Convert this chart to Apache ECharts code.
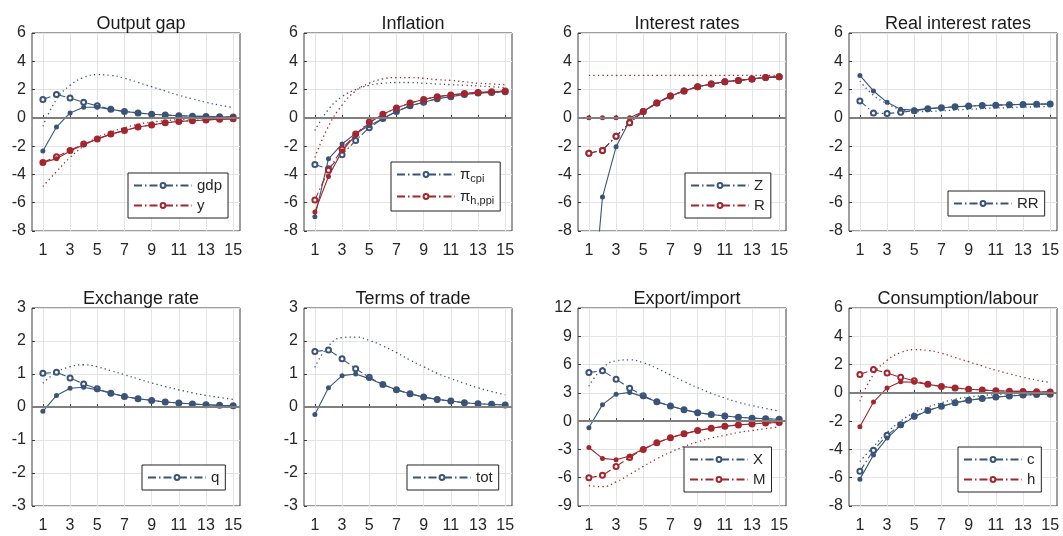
<!DOCTYPE html>
<html>
<head>
<meta charset="utf-8">
<script src="https://cdn.jsdelivr.net/npm/echarts@6/dist/echarts.min.js"></script>
<style>
  html, body { margin: 0; padding: 0; background: #fff; }
  #chart { width: 1063px; height: 536px; }
</style>
</head>
<body>
<div id="chart"></div>
<script>
// horizon and tick labels
const periods = [1, 2, 3, 4, 5, 6, 7, 8, 9, 10, 11, 12, 13, 14, 15];
const xTicks = [1, 3, 5, 7, 9, 11, 13, 15];

// output gap
const gdpSolid = [-2.35, -0.65, 0.35, 0.75, 0.75, 0.6, 0.45, 0.35, 0.25, 0.2, 0.15, 0.12, 0.1, 0.08, 0.06];
const gdpOpen = [1.3, 1.65, 1.4, 1.1, 0.85, 0.6, 0.45, 0.35, 0.25, 0.2, 0.15, 0.12, 0.1, 0.08, 0.06];
const gdpBand = [-0.6, 1.3, 2.3, 2.85, 3.05, 3.0, 2.8, 2.5, 2.2, 1.9, 1.6, 1.35, 1.1, 0.9, 0.72];
const ySolid = [-3.15, -2.9, -2.35, -1.9, -1.5, -1.15, -0.9, -0.65, -0.5, -0.35, -0.25, -0.2, -0.15, -0.1, -0.07];
const yOpen = [-3.15, -2.75, -2.3, -1.85, -1.5, -1.15, -0.9, -0.65, -0.5, -0.35, -0.25, -0.2, -0.15, -0.1, -0.07];
const yBand = [-4.85, -3.8, -2.8, -2.0, -1.4, -1.0, -0.7, -0.45, -0.3, -0.2, -0.12, -0.07, -0.04, -0.02, 0];

// inflation
const pcpiSolid = [-7.0, -2.9, -1.85, -1.1, -0.55, -0.05, 0.45, 0.85, 1.1, 1.35, 1.5, 1.65, 1.75, 1.8, 1.85];
const pcpiOpen = [-3.3, -3.6, -2.6, -1.6, -0.7, -0.05, 0.45, 0.85, 1.1, 1.35, 1.5, 1.65, 1.75, 1.8, 1.85];
const pcpiBand = [-0.9, 0.6, 1.5, 2.0, 2.3, 2.45, 2.5, 2.5, 2.45, 2.4, 2.35, 2.3, 2.25, 2.2, 2.15];
const phSolid = [-6.65, -4.15, -2.35, -1.2, -0.35, 0.25, 0.7, 1.05, 1.3, 1.5, 1.62, 1.72, 1.8, 1.85, 1.9];
const phOpen = [-5.8, -3.7, -2.2, -1.15, -0.3, 0.25, 0.7, 1.05, 1.3, 1.5, 1.62, 1.72, 1.8, 1.85, 1.9];
const phBand = [-2.8, -0.6, 0.9, 1.9, 2.45, 2.75, 2.85, 2.85, 2.8, 2.7, 2.65, 2.55, 2.45, 2.4, 2.35];

// interest rates
const zSolid = [-16.5, -5.6, -2.05, -0.2, 0.45, 1.05, 1.55, 1.9, 2.2, 2.4, 2.55, 2.65, 2.75, 2.85, 2.9];
const zOpen = [-2.5, -2.3, -1.3, -0.35, 0.45, 1.05, 1.55, 1.9, 2.2, 2.4, 2.55, 2.65, 2.75, 2.85, 2.9];
const rSolid = [0, 0, 0, 0, 0.45, 1.05, 1.55, 1.9, 2.2, 2.4, 2.55, 2.65, 2.75, 2.85, 2.9];
const rOpen = [-2.5, -2.3, -1.3, -0.35, 0.45, 1.05, 1.55, 1.9, 2.2, 2.4, 2.55, 2.65, 2.75, 2.85, 2.9];
const rBand = [3, 3, 3, 3, 3, 3, 3, 3, 3, 3, 3, 3, 3, 3, 3];

// real interest rates
const rrSolid = [3.0, 1.9, 1.1, 0.6, 0.55, 0.65, 0.72, 0.78, 0.83, 0.87, 0.9, 0.93, 0.95, 0.97, 0.98];
const rrOpen = [1.2, 0.35, 0.3, 0.4, 0.5, 0.65, 0.72, 0.78, 0.83, 0.87, 0.9, 0.93, 0.95, 0.97, 0.98];
const rrBand = [2.6, 1.6, 1.0, 0.6, 0.45, 0.45, 0.5, 0.55, 0.6, 0.65, 0.7, 0.72, 0.75, 0.78, 0.8];

// exchange rate
const qSolid = [-0.13, 0.35, 0.57, 0.6, 0.52, 0.42, 0.32, 0.25, 0.2, 0.15, 0.12, 0.09, 0.07, 0.05, 0.04];
const qOpen = [1.02, 1.05, 0.88, 0.7, 0.55, 0.42, 0.32, 0.25, 0.2, 0.15, 0.12, 0.09, 0.07, 0.05, 0.04];
const qBand = [0.72, 1.05, 1.22, 1.28, 1.22, 1.1, 0.98, 0.85, 0.73, 0.62, 0.52, 0.43, 0.35, 0.29, 0.23];

// terms of trade
const totSolid = [-0.23, 0.58, 0.95, 1.0, 0.86, 0.68, 0.52, 0.4, 0.3, 0.23, 0.18, 0.13, 0.1, 0.08, 0.06];
const totOpen = [1.68, 1.73, 1.46, 1.16, 0.9, 0.68, 0.52, 0.4, 0.3, 0.23, 0.18, 0.13, 0.1, 0.08, 0.06];
const totBand = [1.2, 1.85, 2.1, 2.12, 2.02, 1.85, 1.65, 1.42, 1.22, 1.02, 0.86, 0.72, 0.58, 0.47, 0.37];

// export / import
const xSolid = [-0.7, 1.75, 2.85, 3.05, 2.6, 2.05, 1.6, 1.2, 0.9, 0.7, 0.55, 0.42, 0.32, 0.25, 0.2];
const xOpen = [5.15, 5.35, 4.45, 3.5, 2.7, 2.05, 1.6, 1.2, 0.9, 0.7, 0.55, 0.42, 0.32, 0.25, 0.2];
const xBand = [3.7, 5.6, 6.4, 6.5, 6.2, 5.6, 4.9, 4.2, 3.55, 2.95, 2.45, 2.0, 1.65, 1.35, 1.05];
const mSolid = [-2.8, -3.95, -4.1, -3.7, -2.95, -2.3, -1.75, -1.35, -1.0, -0.75, -0.55, -0.4, -0.3, -0.2, -0.15];
const mOpen = [-6.0, -5.75, -4.8, -3.85, -3.0, -2.3, -1.75, -1.35, -1.0, -0.75, -0.55, -0.4, -0.3, -0.2, -0.15];
const mBand = [-6.85, -6.95, -6.45, -5.65, -4.8, -4.0, -3.3, -2.7, -2.2, -1.8, -1.5, -1.2, -1.0, -0.8, -0.6];

// consumption / labour
const cSolid = [-6.1, -4.4, -3.2, -2.3, -1.7, -1.25, -0.95, -0.7, -0.52, -0.4, -0.3, -0.22, -0.16, -0.12, -0.09];
const cOpen = [-5.55, -4.05, -3.0, -2.25, -1.65, -1.25, -0.95, -0.7, -0.52, -0.4, -0.3, -0.22, -0.16, -0.12, -0.09];
const cBand = [-4.85, -3.8, -2.8, -2.0, -1.4, -1.0, -0.7, -0.45, -0.3, -0.2, -0.12, -0.07, -0.04, -0.02, 0];
const hSolid = [-2.4, -0.65, 0.35, 0.78, 0.75, 0.6, 0.45, 0.35, 0.25, 0.2, 0.15, 0.12, 0.1, 0.08, 0.06];
const hOpen = [1.3, 1.65, 1.4, 1.1, 0.85, 0.6, 0.45, 0.35, 0.25, 0.2, 0.15, 0.12, 0.1, 0.08, 0.06];
const hBand = [-0.6, 1.3, 2.3, 2.85, 3.05, 3.0, 2.8, 2.5, 2.2, 1.9, 1.6, 1.35, 1.1, 0.9, 0.72];

const BLUE = "#3a5479";
const RED = "#a3262e";
const FONT = "Liberation Sans";
const TEXT = "#262626";

// panel layout: title, y range, and the variables in drawing order
const panels = [
  { title: "Output gap", y: [-8, 6, 2], vars: [
    { key: "gdp", color: BLUE, solid: gdpSolid, open: gdpOpen, band: gdpBand },
    { key: "y", color: RED, solid: ySolid, open: yOpen, band: yBand }],
    legend: { left: 128, top: 173 } },
  { title: "Inflation", y: [-8, 6, 2], vars: [
    { key: "pcpi", color: BLUE, solid: pcpiSolid, open: pcpiOpen, band: pcpiBand },
    { key: "phppi", color: RED, solid: phSolid, open: phOpen, band: phBand }],
    legend: { left: 391, top: 162 } },
  { title: "Interest rates", y: [-8, 6, 2], vars: [
    { key: "Z", color: BLUE, solid: zSolid, open: zOpen, band: null },
    { key: "R", color: RED, solid: rSolid, open: rOpen, band: rBand }],
    legend: { left: 685, top: 173 } },
  { title: "Real interest rates", y: [-8, 6, 2], vars: [
    { key: "RR", color: BLUE, solid: rrSolid, open: rrOpen, band: rrBand }],
    legend: { left: 948, top: 191 } },
  { title: "Exchange rate", y: [-3, 3, 1], vars: [
    { key: "q", color: BLUE, solid: qSolid, open: qOpen, band: qBand }],
    legend: { left: 142, top: 465 } },
  { title: "Terms of trade", y: [-3, 3, 1], vars: [
    { key: "tot", color: BLUE, solid: totSolid, open: totOpen, band: totBand }],
    legend: { left: 407, top: 465 } },
  { title: "Export/import", y: [-9, 12, 3], vars: [
    { key: "X", color: BLUE, solid: xSolid, open: xOpen, band: xBand },
    { key: "M", color: RED, solid: mSolid, open: mOpen, band: mBand }],
    legend: { left: 684, top: 447 } },
  { title: "Consumption/labour", y: [-8, 6, 2], vars: [
    { key: "c", color: BLUE, solid: cSolid, open: cOpen, band: cBand },
    { key: "h", color: RED, solid: hSolid, open: hOpen, band: hBand }],
    legend: { left: 958, top: 447 } }
];

const legendText = {
  gdp: "gdp", y: "y", pcpi: "{p|π}{s|cpi}", phppi: "{p|π}{s|h,ppi}",
  Z: "Z", R: "R", RR: "RR", q: "q", tot: "tot", X: "X", M: "M", c: "c", h: "h"
};

const lefts = [32, 304, 578, 849];
const tops = [33, 308];
const W = 208, H = 198;

function pts(vals) {
  return periods.map((p, i) => [p, vals[i]]);
}

const grid = [], xAxis = [], yAxis = [], title = [], legend = [], series = [];

panels.forEach((pn, i) => {
  const left = lefts[i % 4];
  const top = tops[Math.floor(i / 4)];
  grid.push({ left: left, top: top, width: W, height: H, show: true,
    borderColor: "#3c3c3c", borderWidth: 1, backgroundColor: "#fff" });
  title.push({ text: pn.title, left: left + W / 2, top: top - 23, textAlign: "center",
    textStyle: { fontFamily: FONT, fontSize: 18, fontWeight: "normal", color: "#1a1a1a" } });
  xAxis.push({
    type: "value", gridIndex: i, min: 0.2, max: 15.5,
    axisLine: { show: false },
    axisTick: { show: true, inside: true, length: 3, customValues: xTicks, lineStyle: { color: "#3c3c3c" } },
    axisLabel: { customValues: xTicks, fontFamily: FONT, fontSize: 16, color: TEXT, margin: 12 },
    splitLine: { show: true, lineStyle: { color: "#e4e4e4" } }
  });
  yAxis.push({
    type: "value", gridIndex: i, min: pn.y[0], max: pn.y[1], interval: pn.y[2],
    axisLine: { show: false },
    axisTick: { show: true, inside: true, length: 3, lineStyle: { color: "#3c3c3c" } },
    axisLabel: { fontFamily: FONT, fontSize: 16, color: TEXT, margin: 6 },
    splitLine: { show: true, lineStyle: { color: "#e4e4e4" } }
  });
  legend.push({
    orient: "vertical", left: pn.legend.left, top: pn.legend.top,
    data: pn.vars.map(v => v.key),
    backgroundColor: "#fff", borderColor: "#222", borderWidth: 1, borderRadius: 0,
    padding: [5, 6, 5, 5], itemGap: 5, itemWidth: 58, itemHeight: 6,
    selectedMode: false,
    formatter: name => legendText[name],
    textStyle: { fontFamily: FONT, fontSize: 15, color: TEXT, lineHeight: 13,
      rich: { p: { fontFamily: FONT, fontSize: 15, color: TEXT },
              s: { fontFamily: FONT, fontSize: 11, color: TEXT, padding: [8, 0, 0, 0] } } }
  });

  // zero line
  series.push({
    type: "line", name: "zero" + i, xAxisIndex: i, yAxisIndex: i, data: [], silent: true,
    markLine: { silent: true, symbol: "none", label: { show: false }, animation: false,
      lineStyle: { color: "#7f7f7f", width: 2, type: "solid" }, data: [{ yAxis: 0 }] }
  });

  pn.vars.forEach(v => {
    if (v.band) {
      series.push({
        type: "line", name: v.key + "_band", xAxisIndex: i, yAxisIndex: i, data: pts(v.band),
        smooth: true, symbol: "none", silent: true,
        lineStyle: { color: v.color, width: 1.3, type: [1.3, 3.2] }
      });
    }
    series.push({
      type: "line", name: v.key, xAxisIndex: i, yAxisIndex: i, data: pts(v.open),
      symbol: "emptyCircle", symbolSize: 5, silent: true,
      itemStyle: { color: v.color, borderColor: v.color, borderWidth: 1 },
      lineStyle: { color: v.color, width: 1.1, type: [8, 3, 1.5, 3] }
    });
    series.push({
      type: "line", name: v.key + "_solid", xAxisIndex: i, yAxisIndex: i, data: pts(v.solid),
      symbol: "circle", symbolSize: 5, silent: true,
      itemStyle: { color: v.color },
      lineStyle: { color: v.color, width: 1.1, type: "solid" }
    });
  });
});

const chart = echarts.init(document.getElementById("chart"));
chart.setOption({
  backgroundColor: "#fff",
  animation: false,
  title: title,
  grid: grid,
  xAxis: xAxis,
  yAxis: yAxis,
  legend: legend,
  series: series
});
</script>
</body>
</html>
